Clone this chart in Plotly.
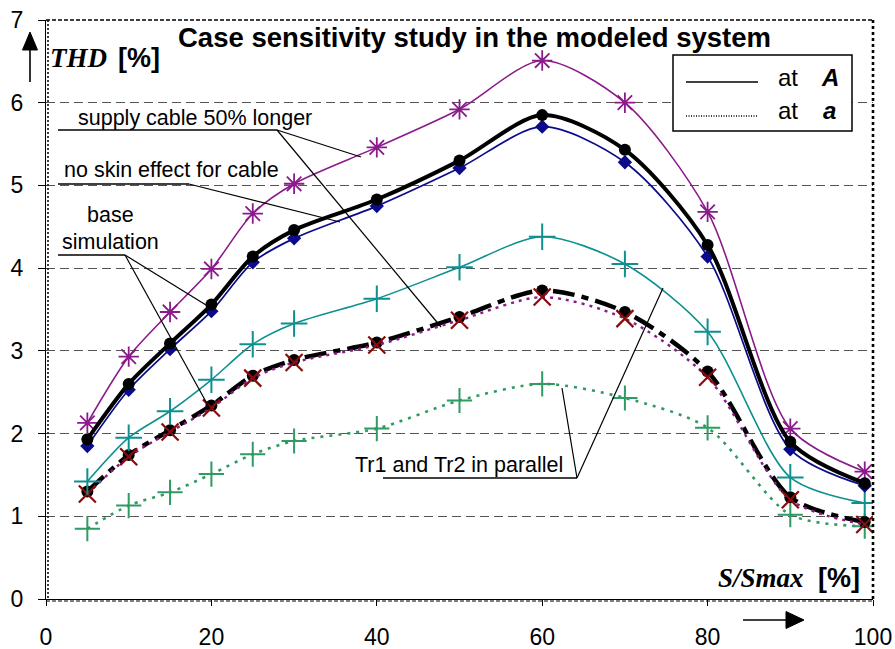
import plotly.graph_objects as go

# Load level S/Smax [%]
load_pct = [5, 10, 15, 20, 25, 30, 40, 50, 60, 70, 80, 90, 99]

# THD [%] at bus A (solid lines)
base_A = [1.93, 2.60, 3.09, 3.56, 4.14, 4.46, 4.83, 5.30, 5.85, 5.43, 4.28, 1.90, 1.40]
noskin_A = [1.85, 2.53, 3.02, 3.48, 4.07, 4.36, 4.75, 5.21, 5.71, 5.28, 4.14, 1.81, 1.37]
cable_A = [2.13, 2.93, 3.47, 3.99, 4.66, 5.02, 5.46, 5.92, 6.51, 6.00, 4.68, 2.06, 1.54]
parallel_A = [1.42, 1.95, 2.27, 2.65, 3.08, 3.33, 3.63, 4.01, 4.38, 4.05, 3.23, 1.47, 1.16]

# THD [%] at bus a (dotted / dashed lines)
base_a = [1.30, 1.74, 2.04, 2.34, 2.70, 2.89, 3.10, 3.41, 3.73, 3.47, 2.75, 1.23, 0.93]
cable_a = [1.27, 1.72, 2.02, 2.31, 2.67, 2.86, 3.07, 3.37, 3.65, 3.39, 2.68, 1.20, 0.90]
parallel_a = [0.85, 1.13, 1.29, 1.51, 1.75, 1.91, 2.06, 2.40, 2.60, 2.43, 2.07, 1.02, 0.88]

x_ticks = [0, 20, 40, 60, 80, 100]
y_ticks = [0, 1, 2, 3, 4, 5, 6, 7]

W_FIG, H_FIG = 895, 649
M_L, M_R, M_T, M_B = 46, 22, 20, 50
PW = W_FIG - M_L - M_R
PH = H_FIG - M_T - M_B

ARIAL = "Liberation Sans, Arial, sans-serif"
TIMES = "Liberation Serif, Times New Roman, serif"


def px(x):
    """page pixel column -> paper x"""
    return (x - M_L) / PW


def py(y):
    """page pixel row -> paper y"""
    return (M_T + PH - y) / PH


fig = go.Figure()


def add_series(y, color, width, dash, symbol, msize, mcolor=None, mline=None, mfill=None):
    mcolor = mcolor or color
    marker = dict(symbol=symbol, size=msize, color=mfill or mcolor,
                  line=dict(color=mcolor, width=mline if mline is not None else 0))
    fig.add_trace(go.Scatter(
        x=load_pct, y=y, mode="lines+markers",
        line=dict(color=color, width=width, dash=dash, shape="spline", smoothing=0.8),
        marker=marker, showlegend=False, hoverinfo="x+y"))


# bus a
add_series(parallel_a, "#2E9B62", 2.6, "3px,6px", "cross-thin-open", 18, mline=2)
add_series(base_a, "#000000", 4.5, "22px,7px,7px,7px", "circle", 12)
add_series(cable_a, "#8B1A8B", 2.4, "3px,5px", "x-thin-open", 17, mcolor="#8B0A0A", mline=2.2)
# bus A
add_series(parallel_A, "#0E9090", 1.6, "solid", "cross-thin-open", 19, mline=2)
add_series(cable_A, "#8B1A8B", 1.6, "solid", "asterisk-open", 17, mline=1.8)
add_series(noskin_A, "#0A0A8A", 1.7, "solid", "diamond", 11)
add_series(base_A, "#000000", 4, "solid", "circle", 12)

shapes = []


def line(x0, y0, x1, y1, width=1.5, dash="solid", color="black"):
    shapes.append(dict(type="line", xref="paper", yref="paper",
                       x0=px(x0), y0=py(y0), x1=px(x1), y1=py(y1),
                       line=dict(color=color, width=width, dash=dash), layer="above"))


def tri(points):
    path = "M " + " L ".join(f"{px(a):.5f},{py(b):.5f}" for a, b in points) + " Z"
    shapes.append(dict(type="path", xref="paper", yref="paper", path=path,
                       fillcolor="black", line=dict(color="black", width=1), layer="above"))


# plot area frame
line(46, 20, 873, 20, width=1.5, dash="4px,2px")
line(48, 20, 48, 599, width=1.5, dash="2px,2px")
line(873, 20, 873, 599, width=2.6, dash="3px,3px")
line(46, 601, 873, 601, width=1.2, dash="4px,2px")

# axis arrows
line(30, 82, 30, 45, width=1.6)
tri([(30, 32), (22.5, 50), (37.5, 50)])
line(743, 620, 790, 620, width=1.6)
tri([(804, 620), (786, 611.5), (786, 628.5)])

# leader lines for the case labels
line(58, 130, 277, 130)
line(277, 130, 361, 157, width=1.2)
line(277, 130, 441, 327, width=1.2)
line(58, 184, 189, 184)
line(189, 184, 340, 222, width=1.2)
line(58, 255, 125, 255)
line(125, 255, 206, 305, width=1.2)
line(125, 255, 210, 409, width=1.2)
line(383, 478, 577, 478)
line(577, 478, 562, 388, width=1.2)
line(577, 478, 663, 288, width=1.2)

# legend box
shapes.append(dict(type="rect", xref="paper", yref="paper",
                   x0=px(673), y0=py(131), x1=px(852), y1=py(55),
                   line=dict(color="black", width=1.5), fillcolor="white", layer="above"))
line(686, 82, 758, 82, width=1.5)
line(686, 116, 757, 116, width=1.3, dash="1px,1.5px")

annotations = []


def text(t, x, y, size, family=ARIAL, xanchor="center", color="black"):
    annotations.append(dict(text=t, x=px(x), y=py(y), xref="paper", yref="paper",
                            xanchor=xanchor, yanchor="middle", showarrow=False,
                            font=dict(size=size, family=family, color=color)))


text("<b>Case sensitivity study in the modeled system</b>", 474, 37, 27.5)
text("<b><i>THD</i></b>", 48, 58, 27, family=TIMES, xanchor="left")
text("<b>[%]</b>", 116, 58, 27, xanchor="left")
text("<b><i>S/Smax</i></b>", 716, 578, 27, family=TIMES, xanchor="left")
text("<b>[%]</b>", 816, 578, 27, xanchor="left")

text("supply cable 50% longer", 76, 118, 21.5, xanchor="left")
text("no skin effect for cable", 62, 170, 21.5, xanchor="left")
text("base", 110, 215, 21.5)
text("simulation", 110, 242, 21.5)
text("Tr1 and Tr2 in parallel", 459, 465, 21.5)

text("at", 788, 77, 24)
text("<b><i>A</i></b>", 830, 77, 24)
text("at", 788, 111, 24)
text("<b><i>a</i></b>", 829, 111, 24)

fig.update_layout(
    width=W_FIG, height=H_FIG,
    margin=dict(l=M_L, r=M_R, t=M_T, b=M_B, pad=0, autoexpand=False),
    paper_bgcolor="white", plot_bgcolor="white",
    shapes=shapes, annotations=annotations,
    xaxis=dict(range=[0, 100], tickvals=x_ticks, ticktext=[str(v) for v in x_ticks],
               automargin=False,
               showgrid=False, zeroline=False, showline=True, linecolor="black", linewidth=1,
               ticks="outside", ticklen=6, tickcolor="black", ticklabelstandoff=11,
               tickfont=dict(size=23, family=ARIAL, color="black")),
    yaxis=dict(range=[0, 7], tickvals=y_ticks, ticktext=[str(v) for v in y_ticks],
               automargin=False,
               showgrid=True, gridcolor="#555555", griddash="9px,5px", gridwidth=1,
               zeroline=False, showline=True, linecolor="black", linewidth=1.2,
               ticks="outside", ticklen=7, tickcolor="black", ticklabelstandoff=10,
               tickfont=dict(size=23, family=ARIAL, color="black")),
)

fig.write_html("out.html")
